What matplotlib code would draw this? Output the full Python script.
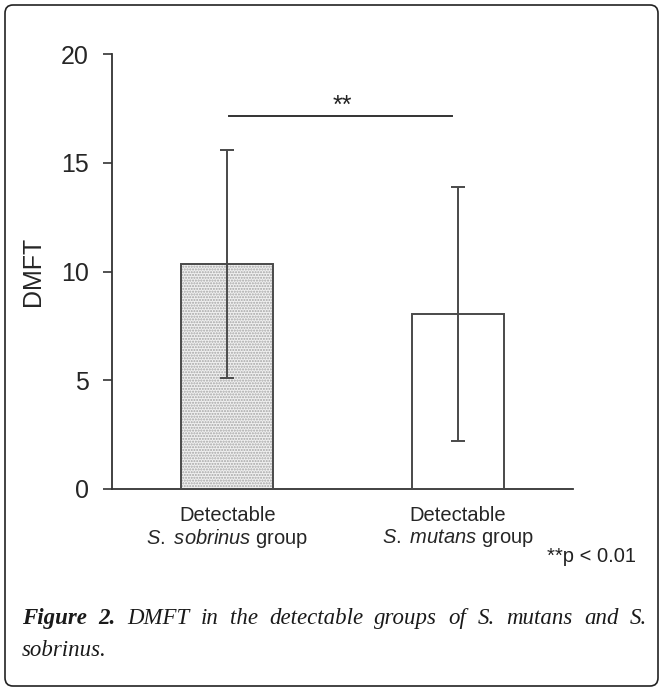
import matplotlib
matplotlib.use("Agg")
import matplotlib.pyplot as plt
from matplotlib.patches import FancyBboxPatch

plt.rcParams["mathtext.fontset"] = "custom"
plt.rcParams["mathtext.rm"] = "Liberation Sans"
plt.rcParams["mathtext.it"] = "Liberation Sans:italic"

categories = ["Detectable\n$\\it{S.\\ sobrinus}$ group", "Detectable\n$\\it{S.\\ mutans}$ group"]
means = [10.35, 8.05]
sds = [5.25, 5.85]
yticks = [0, 5, 10, 15, 20]

W, H = 664, 691
fig = plt.figure(figsize=(W / 100, H / 100), dpi=100)

# rounded border
border = FancyBboxPatch((5 / W, 5 / H), 653 / W, 681 / H,
                        boxstyle="round,pad=0,rounding_size=0.012",
                        transform=fig.transFigure, fill=False,
                        edgecolor="#222222", linewidth=1.2)
fig.patches.append(border)

ax = fig.add_axes([112 / W, (H - 489) / H, 461 / W, 435 / H])
x = [0, 1]
ax.set_xlim(-0.5, 1.5)
ax.set_ylim(0, 20)

tc = "#262626"
lc = "#4a4a4a"
# bar 1 dotted fill
ax.bar(x[0], means[0], width=0.4, color="#f0f0f0", hatch="......",
       edgecolor="#a5a5a5", linewidth=0, zorder=2)
ax.bar(x, means, width=0.4, fill=False, edgecolor=lc, linewidth=1.4, zorder=3)
ax.errorbar(x, means, yerr=sds, fmt="none", ecolor=lc, elinewidth=1.4,
            capsize=5, capthick=1.4, zorder=4)

# significance bracket
ax.plot([0.008, 0.975], [17.15, 17.15], color="#333333", linewidth=1.4)
ax.text(0.498, 17.3, "**", ha="center", va="baseline", fontsize=18, color="#222222",
        family="Liberation Sans")

for s in ["top", "right"]:
    ax.spines[s].set_visible(False)
for s in ["left", "bottom"]:
    ax.spines[s].set_color("#333333")
    ax.spines[s].set_linewidth(1.3)

ax.set_yticks(yticks)
ax.set_yticklabels([str(v) for v in yticks], fontsize=18, color=tc, family="Liberation Sans")
ax.tick_params(axis="y", direction="out", length=6.5, width=1.2, color="#333333", pad=10)
ax.set_xticks(x)
ax.set_xticklabels(categories, fontsize=14.5, color=tc, family="Liberation Sans",
                   linespacing=1.15)
ax.tick_params(axis="x", length=0, pad=12)
ax.set_ylabel("DMFT", fontsize=18, color=tc, family="Liberation Sans")
ax.yaxis.set_label_coords((45 - 112) / 461, 0.5)

fig.text(547 / W, 1 - 562 / H, "**p < 0.01", fontsize=14.5, color="#222222",
         family="Liberation Sans", va="baseline", ha="left")

# caption, justified first line
fig.canvas.draw()
renderer = fig.canvas.get_renderer()
words = [("Figure", "bold"), ("2.", "bold"), ("DMFT", "normal"), ("in", "normal"),
         ("the", "normal"), ("detectable", "normal"), ("groups", "normal"),
         ("of", "normal"), ("S.", "normal"), ("mutans", "normal"), ("and", "normal"),
         ("S.", "normal")]
x0, x1 = 22, 647
yline = 1 - 624 / H
texts = []
widths = []
for w, wt in words:
    t = fig.text(0, yline, w, fontsize=16.5, style="italic", weight=wt,
                 family="Liberation Serif", color="#1a1a1a", va="baseline")
    bb = t.get_window_extent(renderer)
    texts.append(t)
    widths.append(bb.width)
gap = (x1 - x0 - sum(widths)) / (len(words) - 1)
cx = x0
for t, wd in zip(texts, widths):
    t.set_x(cx / W)
    cx += wd + gap
fig.text(x0 / W, 1 - 656 / H, "sobrinus.", fontsize=16.5, style="italic",
         family="Liberation Serif", color="#1a1a1a", va="baseline")

fig.savefig("out.png", dpi=100)
